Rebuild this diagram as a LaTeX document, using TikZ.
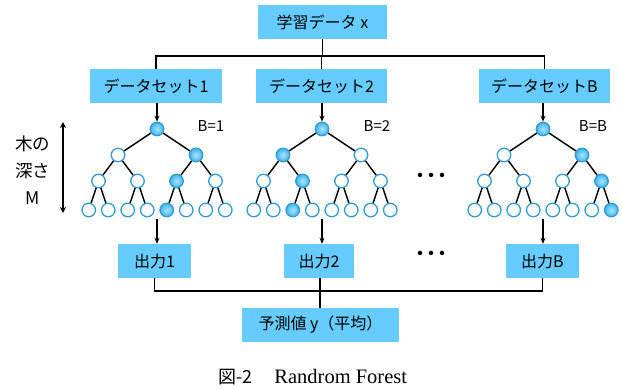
\documentclass[tikz,border=0pt]{standalone}
\usepackage{fontspec}
\setmainfont{Liberation Serif}
\newfontfamily\jp{Noto Sans CJK JP}
\usetikzlibrary{arrows.meta}
\definecolor{boxblue}{HTML}{66CCFF}
\definecolor{ringblue}{HTML}{2F9BD3}
\definecolor{ballblue}{HTML}{3FB6EC}
\tikzset{
  box/.style={fill=boxblue, inner sep=0pt, minimum height=34pt, font=\jp\fontsize{16}{18}\selectfont},
  leaf/.style={circle, draw=ringblue, line width=1.3pt, fill=white, minimum size=13.5pt, inner sep=0pt},
  hot/.style={leaf, draw=ringblue, inner color=boxblue!55!white, outer color=ballblue},
  edge/.style={line width=1.4pt, black},
  arr/.style={line width=1.2pt, -{Stealth[length=6pt,width=5pt]}},
  lab/.style={font=\jp\fontsize{15}{17}\selectfont, inner sep=0pt},
  dotsty/.style={font=\jp\bfseries\fontsize{16}{18}\selectfont, inner sep=0pt},
}
\newcommand\rftree[3]{%
  \foreach \i/\d/\k/\yy in {1/0/0/129, 2/1/0/155, 3/1/1/155, 4/2/0/181, 5/2/1/181, 6/2/2/181, 7/2/3/181,
      8/3/0/210, 9/3/1/210, 10/3/2/210, 11/3/3/210, 12/3/4/210, 13/3/5/210, 14/3/6/210, 15/3/7/210}{%
    \pgfmathsetmacro\xx{#2+(\k-(2^\d-1)/2)*156/(2^\d)}%
    \gdef\rfst{leaf}%
    \foreach \j in {#3}{\ifnum\j=\i\relax\xdef\rfst{hot}\fi}%
    \node[\rfst] (#1\i) at (\xx,\yy) {};
  }
  \foreach \i in {2,...,15}{%
    \pgfmathtruncatemacro\p{\i/2}%
    \draw[edge] (#1\p) -- (#1\i);
  }
}
\begin{document}
\begin{tikzpicture}[x=1pt,y=-1pt]
\useasboundingbox (0,0) rectangle (622,390);
% top
\node[box, minimum width=129pt] (top) at (322.5,22) {学習データ x};
\node[box, minimum width=132pt] (ds1) at (156,86) {データセット1};
\node[box, minimum width=131pt] (ds2) at (321.5,86) {データセット2};
\node[box, minimum width=131pt] (dsB) at (544.5,86) {データセットB};
\coordinate (busT) at (322.5,56);
\draw[edge] (top.south) -- (busT);
\draw[edge] (ds1.north) |- (busT) -| (dsB.north);
\draw[edge] (ds2.north) -- (ds2.north |- busT);
% trees
\rftree{a}{157}{1,3,6,12}
\rftree{b}{322}{1,2,5,10}
\rftree{c}{543}{1,3,7,15}
\draw[arr] (ds1.south -| a1) -- (a1.north);
\draw[arr] (ds2.south -| b1) -- (b1.north);
\draw[arr] (dsB.south -| c1) -- (c1.north);
\node[lab] (l1) at (211,126) {B=1};
\node[lab] (l2) at (377,126) {B=2};
\node[lab] (l3) at (593,126) {B=B};
\node[dotsty] (dots1) at (431,177) {・\kern-5pt・\kern-5pt・};
% depth
\node[font=\jp\fontsize{17.5}{19}\selectfont, align=center, inner sep=0pt] (depth) at (33,170) {木の\\[8pt]深さ\\[8pt]M};
\coordinate (dT) at (63,122);
\coordinate (dB) at (63,213);
\draw[line width=1.4pt, {Stealth[length=6pt,width=6pt]}-{Stealth[length=6pt,width=6pt]}] (dT) -- (dB);
% outputs
\node[box, minimum width=73pt] (o1) at (154.5,261) {出力1};
\node[box, minimum width=70pt] (o2) at (319,261) {出力2};
\node[box, minimum width=73pt] (oB) at (542.5,261) {出力B};
\node[dotsty] (dots2) at (431,255) {・\kern-5pt・\kern-5pt・};
\coordinate (a15b) at (157,219);
\draw[arr] (a1 |- a15b) -- (o1.north -| a1);
\draw[arr] (b1 |- a15b) -- (o2.north -| b1);
\draw[arr] (c1 |- a15b) -- (oB.north -| c1);
\node[box, minimum width=157pt] (pred) at (320.5,325) {予測値 y（平均）};
\coordinate (busB) at (320,291);
\draw[edge] (o1.south) |- (busB) -| (oB.south);
\draw[edge] (o2.south -| busB) -- (pred.north -| busB);
% caption
\node[inner sep=0pt, anchor=west] (cap) at (218,377) {{\jp\fontsize{18}{20}\selectfont 図-2}\hspace{22pt}{\fontsize{20.5}{22}\selectfont Randrom Forest}};
\end{tikzpicture}
\end{document}
